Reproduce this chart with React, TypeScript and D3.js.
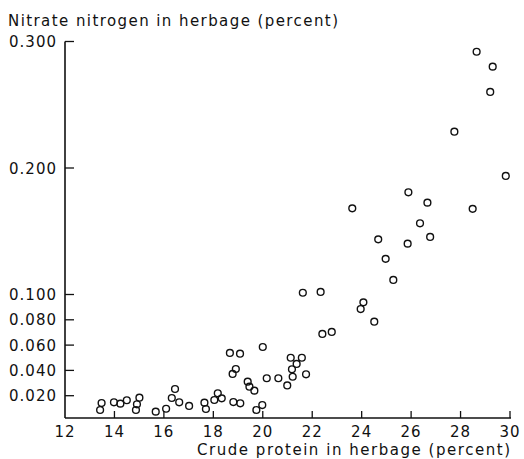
import React from "react";
import * as d3 from "d3";

const crudeProtein = [
  13.48, 13.42, 13.98, 14.24, 14.5, 15.01, 14.91, 14.87, 15.67, 16.09,
  16.45, 16.32, 16.62, 17.02, 17.64, 17.7, 18.04, 18.18, 18.34, 18.67,
  19.08, 18.91, 18.78, 18.81, 19.09, 19.39, 19.46, 19.66, 20.0, 19.98,
  19.74, 20.16, 20.63, 20.99, 21.13, 21.58, 21.37, 21.18, 21.21, 21.75,
  21.62, 22.34, 22.41, 22.79, 24.07, 23.96, 24.51, 23.62, 24.67, 24.97,
  25.28, 25.89, 25.86, 26.36, 26.66, 26.77, 27.75, 28.49, 28.65, 29.3,
  29.2, 29.83,
];
const nitrateN = [
  0.0142, 0.0087, 0.0148, 0.0137, 0.0164, 0.0184, 0.0132, 0.0087, 0.0074, 0.0097,
  0.0253, 0.0182, 0.0148, 0.0119, 0.0145, 0.0095, 0.0166, 0.0219, 0.0179, 0.0538,
  0.0532, 0.0411, 0.0372, 0.015, 0.014, 0.0311, 0.0271, 0.024, 0.0585, 0.0126,
  0.0087, 0.0338, 0.0338, 0.0281, 0.05, 0.05, 0.0451, 0.0409, 0.035, 0.0369,
  0.1014, 0.102, 0.0688, 0.0704, 0.0938, 0.0885, 0.0785, 0.1681, 0.1436, 0.1282,
  0.1115, 0.1808, 0.1402, 0.1563, 0.1726, 0.1455, 0.2287, 0.1677, 0.2919, 0.2801,
  0.2601, 0.1937,
];
const xTicks = [12, 14, 16, 18, 20, 22, 24, 26, 28, 30];
const yTicks = [0.02, 0.04, 0.06, 0.08, 0.1, 0.2, 0.3];
const yTickLabels = ["0.020", "0.040", "0.060", "0.080", "0.100", "0.200", "0.300"];
const yTitle = "Nitrate nitrogen in herbage (percent)";
const xTitle = "Crude protein in herbage (percent)";

export default function App() {
  const W = 524, H = 459;
  const x = d3.scaleLinear().domain([12, 30]).range([65, 510]);
  const y = d3.scaleLinear().domain([0, 0.3]).range([421, 41.5]);
  const axisY = 418;
  const font = "'DejaVu Sans', sans-serif";
  return (
    <svg width={W} height={H} style={{ position: "absolute", left: 0, top: 0, background: "#fff" }}>
      <text x={8} y={26} fontFamily={font} fontSize={15} textLength={330} lengthAdjust="spacing" fill="#111">{yTitle}</text>
      {/* y axis */}
      <line x1={x(12)} x2={x(12)} y1={axisY} y2={y(0.3)} stroke="#111" strokeWidth={1.6} />
      {yTicks.map((t, i) => (
        <g key={"yt" + i}>
          <line x1={x(12)} x2={x(12) + 9} y1={y(t)} y2={y(t)} stroke="#111" strokeWidth={1.3} />
          <text x={57} y={y(t) + 5.5} textAnchor="end" fontFamily={font} fontSize={15} letterSpacing={1} fill="#111">{yTickLabels[i]}</text>
        </g>
      ))}
      {/* x axis */}
      <line x1={x(12)} x2={x(30) + 1} y1={axisY} y2={axisY} stroke="#111" strokeWidth={1.6} />
      {xTicks.map((t, i) => (
        <g key={"xt" + i}>
          {i > 0 && <line x1={x(t)} x2={x(t)} y1={axisY} y2={axisY - 7} stroke="#111" strokeWidth={1.3} />}
          <text x={x(t)} y={437} textAnchor="middle" fontFamily={font} fontSize={15} letterSpacing={1} fill="#111">{t}</text>
        </g>
      ))}
      <text x={197} y={455} fontFamily={font} fontSize={15} textLength={313} lengthAdjust="spacing" fill="#111">{xTitle}</text>
      {crudeProtein.map((cp, i) => (
        <circle key={"p" + i} cx={x(cp)} cy={y(nitrateN[i])} r={3.4} fill="none" stroke="#111" strokeWidth={1.4} />
      ))}
    </svg>
  );
}
